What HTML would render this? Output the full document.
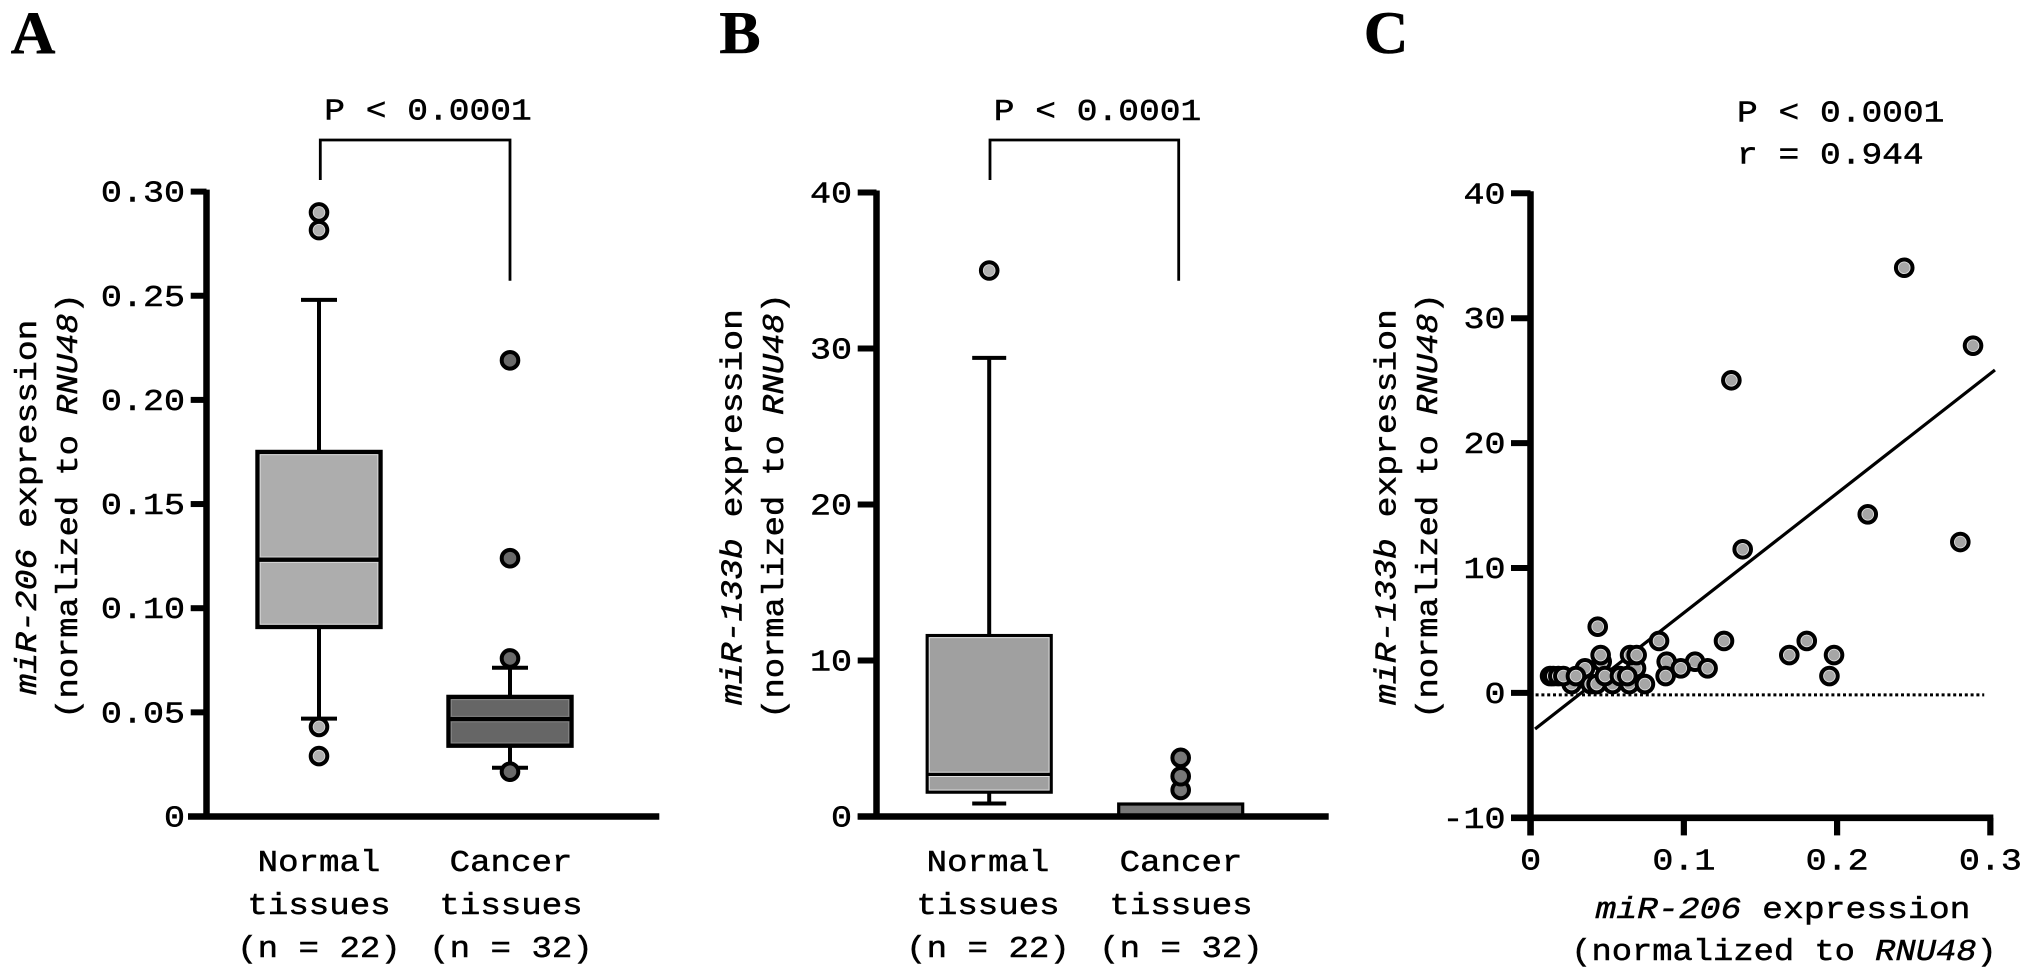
<!DOCTYPE html>
<html lang="en">
<head>
<meta charset="utf-8">
<title>miR-206 and miR-133b expression</title>
<style>
html,body{margin:0;padding:0;background:#fff;width:2031px;height:976px;overflow:hidden}
svg{display:block}
text{font-family:"Liberation Mono",monospace;font-size:31px;fill:#000;stroke:#000;stroke-width:.5}
.letter{font-family:"Liberation Serif",serif;font-weight:bold;font-size:60px;stroke-width:.6}
.it{font-style:italic}
</style>
</head>
<body>
<svg id="figure" xmlns="http://www.w3.org/2000/svg" width="2031" height="976" viewBox="0 0 2031 976">
<rect width="2031" height="976" fill="#fff" stroke="none"/>

<text class="letter" text-anchor="middle" transform="translate(33,53) scale(1.03,1)">A</text>
<text class="letter" text-anchor="middle" transform="translate(740,53) scale(1.03,1)">B</text>
<text class="letter" text-anchor="middle" transform="translate(1386,53) scale(1.03,1)">C</text>

<!-- Panel A text -->
<text text-anchor="middle" transform="translate(428,119.5) scale(1.115,1)">P &lt; 0.0001</text>
<path d="M320.3 180V140H510V280.7" fill="none" stroke="#000" stroke-width="2.8"/>
<text text-anchor="middle" transform="translate(36,507) rotate(-90) scale(1.12,1)"><tspan class="it">miR-206</tspan> expression</text>
<text text-anchor="middle" transform="translate(77,506) rotate(-90) scale(1.09,1)">(normalized to <tspan class="it">RNU48</tspan>)</text>
<g text-anchor="middle">
<text transform="translate(319,871) scale(1.1,1)">Normal</text>
<text transform="translate(319,914) scale(1.1,1)">tissues</text>
<text transform="translate(319,957) scale(1.1,1)">(n = 22)</text>
</g>
<g text-anchor="middle">
<text transform="translate(511,871) scale(1.1,1)">Cancer</text>
<text transform="translate(511,914) scale(1.1,1)">tissues</text>
<text transform="translate(511,957) scale(1.1,1)">(n = 32)</text>
</g>

<!-- Panel B text -->
<text text-anchor="middle" transform="translate(1097.5,120) scale(1.115,1)">P &lt; 0.0001</text>
<path d="M990 180V140H1178.7V280.7" fill="none" stroke="#000" stroke-width="2.8"/>
<text text-anchor="middle" transform="translate(741.5,507) rotate(-90) scale(1.12,1)"><tspan class="it">miR-133b</tspan> expression</text>
<text text-anchor="middle" transform="translate(783,506) rotate(-90) scale(1.09,1)">(normalized to <tspan class="it">RNU48</tspan>)</text>
<g text-anchor="middle">
<text transform="translate(988,871) scale(1.1,1)">Normal</text>
<text transform="translate(988,914) scale(1.1,1)">tissues</text>
<text transform="translate(988,957) scale(1.1,1)">(n = 22)</text>
</g>
<g text-anchor="middle">
<text transform="translate(1181,871) scale(1.1,1)">Cancer</text>
<text transform="translate(1181,914) scale(1.1,1)">tissues</text>
<text transform="translate(1181,957) scale(1.1,1)">(n = 32)</text>
</g>

<!-- Panel C text -->
<text transform="translate(1737,121.5) scale(1.115,1)">P &lt; 0.0001</text>
<text transform="translate(1737,163.5) scale(1.115,1)">r = 0.944</text>
<text text-anchor="middle" transform="translate(1395.5,507) rotate(-90) scale(1.12,1)"><tspan class="it">miR-133b</tspan> expression</text>
<text text-anchor="middle" transform="translate(1437,506) rotate(-90) scale(1.09,1)">(normalized to <tspan class="it">RNU48</tspan>)</text>
<text text-anchor="middle" transform="translate(1783,918) scale(1.12,1)"><tspan class="it">miR-206</tspan> expression</text>
<text text-anchor="middle" transform="translate(1784,960) scale(1.09,1)">(normalized to <tspan class="it">RNU48</tspan>)</text>
</svg>

<script>
// Panel A values (low whisker, Q1, median, Q3, high whisker)
const aTicks = [0, 0.05, 0.10, 0.15, 0.20, 0.25, 0.30];
const aTickLabels = ['0', '0.05', '0.10', '0.15', '0.20', '0.25', '0.30'];
const aNormalBox = [0.047, 0.091, 0.1233, 0.175, 0.248];
const aNormalOutliers = [0.29, 0.2815, 0.043, 0.029];
const aCancerBox = [0.0234, 0.034, 0.0468, 0.0574, 0.0714];
const aCancerOutliers = [0.219, 0.124, 0.0759, 0.0215];

// Panel B values
const bTicks = [0, 10, 20, 30, 40];
const bTickLabels = ['0', '10', '20', '30', '40'];
const bNormalBox = [0.83, 1.56, 2.7, 11.6, 29.4];
const bNormalOutliers = [35.0];
const bCancerBox = [0, 0, 0.4, 0.8, 0.8];
const bCancerOutliers = [1.7, 3.76, 2.58];

// Panel C values
const cYTicks = [-10, 0, 10, 20, 30, 40];
const cYTickLabels = ['-10', '0', '10', '20', '30', '40'];
const cXTicks = [0, 0.1, 0.2, 0.3];
const cXTickLabels = ['0', '0.1', '0.2', '0.3'];
const cPointsX = [0.2438, 0.2887, 0.131, 0.22, 0.2804, 0.1384, 0.0438, 0.0838, 0.1262, 0.1802, 0.1688, 0.198, 0.195,
  0.0268, 0.0392, 0.0431, 0.0535, 0.0644, 0.0746, 0.0355, 0.0688, 0.0464, 0.0457, 0.0649, 0.0692, 0.0485,
  0.0888, 0.1073, 0.098, 0.1155, 0.0881, 0.0127, 0.0148, 0.0181, 0.0214, 0.0296, 0.0583, 0.0631];
const cPointsY = [34.04, 27.8, 25.03, 14.3, 12.08, 11.5, 5.3, 4.16, 4.16, 4.16, 3.03, 3.03, 1.35,
  0.71, 0.71, 0.71, 0.71, 0.71, 0.71, 1.97, 1.97, 2.5, 3.03, 3.03, 3.03, 1.35,
  2.5, 2.5, 1.97, 1.97, 1.35, 1.35, 1.35, 1.35, 1.35, 1.35, 1.35, 1.35];
const cFitX = [0.0029, 0.303];
const cFitY = [-2.89, 25.85];
const cZeroLine = [0, 0.296];

const svg = document.getElementById('figure');
const NS = 'http://www.w3.org/2000/svg';

function make(tag, name, attrs, parent) {
  const el = document.createElementNS(NS, tag);
  
  
  for (const k in attrs) el.setAttribute(k, attrs[k]);
  (parent || svg).appendChild(el);
  return el;
}
function line(name, x1, y1, x2, y2, w, color, parent) {
  return make('line', name, {x1: x1, y1: y1, x2: x2, y2: y2, stroke: color || '#000', 'stroke-width': w}, parent);
}
function label(name, str, x, y, anchor, sx) {
  const t = make('text', name, {'text-anchor': anchor, transform: 'translate(' + x + ',' + y + ') scale(' + sx + ',1)'});
  t.textContent = str;
  return t;
}
function dot(name, cx, cy, fill, halo, parent) {
  const g = make('g', name, {}, parent);
  make('circle', name + '-ring', {cx: cx, cy: cy, r: 8.3, fill: halo, stroke: '#000', 'stroke-width': 4}, g);
  make('circle', name + '-core', {cx: cx, cy: cy, r: 5.4, fill: fill, stroke: 'none'}, g);
  return g;
}
function boxPlot(name, cx, stats, outliers, y, o) {
  const g = make('g', name, {});
  const hw = o.halfWidth, sw = o.stroke;
  // whiskers
  line(name + '-whisker-high', cx, y(stats[4]), cx, y(stats[3]), 4, '#000', g);
  line(name + '-whisker-low', cx, y(stats[1]), cx, y(stats[0]), 4, '#000', g);
  if (o.capHalf) {
    line(name + '-cap-high', cx - o.capHalf, y(stats[4]), cx + o.capHalf, y(stats[4]), 4, '#000', g);
    line(name + '-cap-low', cx - o.capHalf, y(stats[0]), cx + o.capHalf, y(stats[0]), 4, '#000', g);
  }
  const top = y(stats[3]), bot = y(stats[1]);
  make('rect', name + '-body', {x: cx - hw, y: top, width: 2 * hw, height: bot - top, fill: o.fill, stroke: '#000', 'stroke-width': sw}, g);
  if (bot - top > 14) {
    make('rect', name + '-inner-edge', {x: cx - hw + sw / 2 + .5, y: top + sw / 2 + .5, width: 2 * hw - sw - 1, height: bot - top - sw - 1, fill: 'none', stroke: o.edge, 'stroke-width': 1}, g);
    line(name + '-median-halo', cx - hw + sw / 2, y(stats[2]), cx + hw - sw / 2, y(stats[2]), sw + 2, o.edge, g);
    line(name + '-median', cx - hw, y(stats[2]), cx + hw, y(stats[2]), sw, '#000', g);
  }
  outliers.forEach(function (v) {
    dot(name + '-outlier', cx, y(v), o.dotFill, o.dotHalo, g);
  });
}
function yAxis(name, ticks, labels, y, axisX, tickLeft, labelX, bottom, sx) {
  const g = make('g', name, {});
  const ys = ticks.map(y);
  line(name + '-line', axisX, Math.min.apply(null, ys) - 2, axisX, bottom, 6.5, '#000', g);
  ticks.forEach(function (v, i) {
    line(name + '-tick', tickLeft, y(v), axisX, y(v), 6, '#000', g);
    label(name + '-tick-label', labels[i], labelX, y(v) + 10, 'end', sx);
  });
}

// ---------- scales ----------
function yA(v) { return 816.5 - 2083 * v; }
function yB(v) { return 816.5 - 15.6 * v; }
function yC(v) { return 692.9 - 12.49 * v; }
function xC(v) { return 1530.6 + 1532.5 * v; }

// ---------- Panel A ----------
line('panel-a-x-axis', 188, 816.5, 659.3, 816.5, 6.6);
yAxis('panel-a-y-axis', aTicks, aTickLabels, yA, 206.5, 190.7, 185, 819.5, 1.13);
boxPlot('panel-a-normal-box', 319, aNormalBox, aNormalOutliers, yA, {halfWidth: 61.5, stroke: 4.4, capHalf: 18, fill: '#adadad', edge: '#d8d8d8', dotFill: '#b0b0b0', dotHalo: '#d8d8d8'});
boxPlot('panel-a-cancer-box', 510, aCancerBox, aCancerOutliers, yA, {halfWidth: 61.5, stroke: 4.4, capHalf: 18, fill: '#666', edge: '#8c8c8c', dotFill: '#6a6a6a', dotHalo: '#6a6a6a'});

// ---------- Panel B ----------
boxPlot('panel-b-normal-box', 989.2, bNormalBox, bNormalOutliers, yB, {halfWidth: 62, stroke: 3.2, capHalf: 17, fill: '#a0a0a0', edge: '#e0e0e0', dotFill: '#b0b0b0', dotHalo: '#d8d8d8'});
boxPlot('panel-b-cancer-box', 1180.7, bCancerBox, bCancerOutliers, yB, {halfWidth: 62, stroke: 3.2, capHalf: 0, fill: '#777', edge: '#999', dotFill: '#777', dotHalo: '#777'});
line('panel-b-x-axis', 857.7, 816.5, 1328.7, 816.5, 6.6);
yAxis('panel-b-y-axis', bTicks, bTickLabels, yB, 876.5, 857.7, 852, 819.5, 1.13);

// ---------- Panel C ----------
line('panel-c-x-axis', 1511, yC(-10), xC(0.3) + 3, yC(-10), 6.6);
yAxis('panel-c-y-axis', cYTicks, cYTickLabels, yC, 1530.5, 1511, 1505.5, 835.4, 1.13);
cXTicks.forEach(function (v, i) {
  line('panel-c-x-tick', xC(v), yC(-10), xC(v), 835.4, 6.2);
  label('panel-c-x-tick-label', cXTickLabels[i], xC(v), 869.4, 'middle', 1.13);
});
const zeroLine = line('panel-c-zero-line', xC(cZeroLine[0]) + 5, yC(0) + 2, xC(cZeroLine[1]), yC(0) + 2, 3);
zeroLine.setAttribute('stroke-dasharray', '3 2.8');
line('panel-c-regression-line', xC(cFitX[0]), yC(cFitY[0]), xC(cFitX[1]), yC(cFitY[1]), 3.2);
const scatter = make('g', 'panel-c-scatter-points', {});
cPointsX.forEach(function (v, i) {
  dot('panel-c-scatter-point', xC(v), yC(cPointsY[i]), '#a6a6a6', '#dedede', scatter);
});
</script>
</body>
</html>
